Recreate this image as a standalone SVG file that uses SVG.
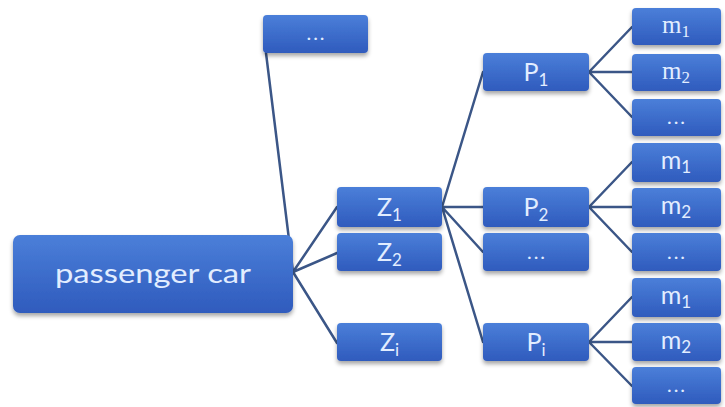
<svg xmlns="http://www.w3.org/2000/svg" width="725" height="407" viewBox="0 0 725 407">
  <defs>
    <linearGradient id="boxFill" x1="0" y1="0" x2="0" y2="1">
      <stop offset="0" stop-color="#4b7fd9"/>
      <stop offset="1" stop-color="#2f5bbd"/>
    </linearGradient>
    <filter id="shadow" x="-10%" y="-20%" width="120%" height="160%">
      <feDropShadow dx="0" dy="3" stdDeviation="2" flood-color="#000" flood-opacity="0.35"/>
    </filter>
  </defs>
  <style>
    .box { fill: url(#boxFill); filter: url(#shadow); }
    .lbl { font-family: Lato, "Open Sans", sans-serif; fill: #e2edff; text-anchor: middle; }
    .serif { font-family: "Liberation Serif", serif; }
    .sub { font-size: 17px; }
    .dots { font-size: 20px; letter-spacing: 2px; }
    .conn { stroke: #3b5687; stroke-width: 2.5; fill: none; stroke-linecap: round; }
  </style>
  <rect width="725" height="407" fill="#ffffff"/>

  <!-- connectors -->
  <g id="connectors">
    <path class="conn" d="M293,272 L266,53"/>
    <path class="conn" d="M293,272 L337,207 M293,272 L337,253 M293,272 L337,343"/>
    <path class="conn" d="M442,207 L483,72 M442,207 L483,207 M442,207 L483,252 M442,207 L483,342"/>
    <path class="conn" d="M589,72 L632,27 M589,72 L632,72 M589,72 L632,117"/>
    <path class="conn" d="M589,207 L632,162 M589,207 L632,207 M589,207 L632,252"/>
    <path class="conn" d="M589,342 L632,297 M589,342 L632,342 M589,342 L632,386"/>
  </g>

  <!-- root -->
  <g id="root">
    <rect class="box" x="13" y="235" width="280" height="78" rx="7"/>
    <text class="lbl" x="153" y="283" font-size="26" textLength="196" lengthAdjust="spacingAndGlyphs">passenger car</text>
  </g>

  <g id="top-more">
    <rect class="box" x="263" y="15" width="105" height="38" rx="4"/>
    <text class="lbl dots" x="316.5" y="40">...</text>
  </g>

  <!-- zones -->
  <g id="z1">
    <rect class="box" x="337" y="187" width="105" height="40" rx="4"/>
    <text class="lbl" x="389.5" y="216" font-size="25">Z<tspan class="sub" dy="5">1</tspan></text>
  </g>
  <g id="z2">
    <rect class="box" x="337" y="233" width="105" height="38" rx="4"/>
    <text class="lbl" x="389.5" y="261" font-size="25">Z<tspan class="sub" dy="5">2</tspan></text>
  </g>
  <g id="zi">
    <rect class="box" x="337" y="323" width="105" height="38" rx="4"/>
    <text class="lbl" x="389.5" y="351" font-size="25">Z<tspan class="sub" dy="5">i</tspan></text>
  </g>

  <!-- parts -->
  <g id="p1">
    <rect class="box" x="483" y="53" width="106" height="38" rx="4"/>
    <text class="lbl" x="536" y="81" font-size="25">P<tspan class="sub" dy="5">1</tspan></text>
  </g>
  <g id="p2">
    <rect class="box" x="483" y="187" width="106" height="40" rx="4"/>
    <text class="lbl" x="536" y="216" font-size="25">P<tspan class="sub" dy="5">2</tspan></text>
  </g>
  <g id="p-more">
    <rect class="box" x="483" y="233" width="106" height="38" rx="4"/>
    <text class="lbl dots" x="537" y="259">...</text>
  </g>
  <g id="pi">
    <rect class="box" x="483" y="323" width="106" height="38" rx="4"/>
    <text class="lbl" x="536" y="351" font-size="25">P<tspan class="sub" dy="5">i</tspan></text>
  </g>

  <!-- modules of P1 -->
  <g id="p1-m1">
    <rect class="box" x="632" y="8" width="89" height="37" rx="4"/>
    <text class="lbl serif" x="676" y="33" font-size="25">m<tspan class="sub" dy="4">1</tspan></text>
  </g>
  <g id="p1-m2">
    <rect class="box" x="632" y="54" width="89" height="37" rx="4"/>
    <text class="lbl serif" x="676" y="79" font-size="25">m<tspan class="sub" dy="4">2</tspan></text>
  </g>
  <g id="p1-more">
    <rect class="box" x="632" y="99" width="89" height="37" rx="4"/>
    <text class="lbl dots" x="677" y="124">...</text>
  </g>

  <!-- modules of P2 -->
  <g id="p2-m1">
    <rect class="box" x="632" y="143" width="89" height="39" rx="4"/>
    <text class="lbl" x="676" y="169" font-size="25">m<tspan class="sub" dy="4">1</tspan></text>
  </g>
  <g id="p2-m2">
    <rect class="box" x="632" y="188" width="89" height="39" rx="4"/>
    <text class="lbl" x="676" y="214" font-size="25">m<tspan class="sub" dy="4">2</tspan></text>
  </g>
  <g id="p2-more">
    <rect class="box" x="632" y="233" width="89" height="38" rx="4"/>
    <text class="lbl dots" x="677" y="259">...</text>
  </g>

  <!-- modules of Pi -->
  <g id="pi-m1">
    <rect class="box" x="632" y="278" width="89" height="39" rx="4"/>
    <text class="lbl" x="676" y="304" font-size="25">m<tspan class="sub" dy="4">1</tspan></text>
  </g>
  <g id="pi-m2">
    <rect class="box" x="632" y="323" width="89" height="38" rx="4"/>
    <text class="lbl" x="676" y="349" font-size="25">m<tspan class="sub" dy="4">2</tspan></text>
  </g>
  <g id="pi-more">
    <rect class="box" x="632" y="367" width="89" height="37" rx="4"/>
    <text class="lbl dots" x="677" y="392">...</text>
  </g>
</svg>
